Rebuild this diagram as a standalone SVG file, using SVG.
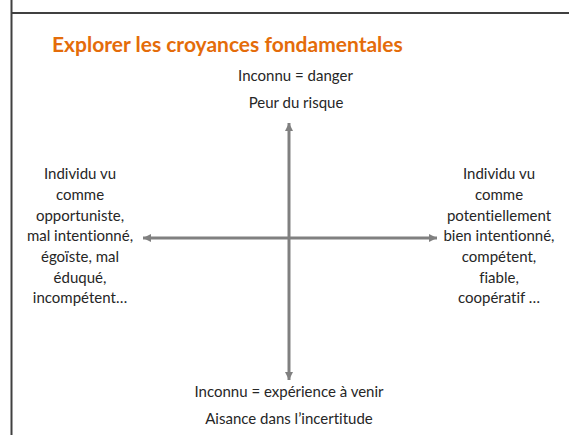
<svg xmlns="http://www.w3.org/2000/svg" width="569" height="435" viewBox="0 0 569 435">
  <style>
    .t { font-family: Lato, "Open Sans", "Liberation Sans", sans-serif; font-size: 15px; fill: #262626; text-anchor: middle; font-variant-ligatures: none; }
    .title { font-family: Lato, "Open Sans", "Liberation Sans", sans-serif; font-size: 21px; font-weight: bold; fill: #E46C0A; font-variant-ligatures: none; }
    .frame { stroke: #404040; stroke-width: 2; fill: none; }
    .axis { stroke: #808080; stroke-width: 3; fill: none; }
  </style>
  <defs>
    <marker id="arr" viewBox="0 0 10 10" refX="10" refY="5" markerWidth="8" markerHeight="10" markerUnits="userSpaceOnUse" orient="auto">
      <path d="M0,0 L10,5 L0,10 Z" fill="#808080"/>
    </marker>
  </defs>
  <rect width="569" height="435" fill="#ffffff"/>
  <g id="frame">
    <line class="frame" x1="11.5" y1="0" x2="11.5" y2="435"/>
    <line class="frame" x1="11" y1="13" x2="569" y2="13"/>
  </g>
  <g id="title">
    <text class="title" x="52" y="52">Explorer les croyances fondamentales</text>
  </g>
  <g id="connectors">
    <line class="axis" x1="289" y1="238" x2="289" y2="123" marker-end="url(#arr)"/>
    <line class="axis" x1="289" y1="238" x2="289" y2="380" marker-end="url(#arr)"/>
    <line class="axis" x1="289" y1="238" x2="143" y2="238" marker-end="url(#arr)"/>
    <line class="axis" x1="289" y1="238" x2="437" y2="238" marker-end="url(#arr)"/>
  </g>
  <g id="node-top">
    <text class="t" x="295.5" y="81">Inconnu = danger</text>
    <text class="t" x="296" y="108">Peur du risque</text>
  </g>
  <g id="node-bottom">
    <text class="t" x="289" y="397">Inconnu = expérience à venir</text>
    <text class="t" x="289" y="424">Aisance dans l’incertitude</text>
  </g>
  <g id="node-left">
    <text class="t" x="80" y="179">Individu vu</text>
    <text class="t" x="80" y="200">comme</text>
    <text class="t" x="80" y="221">opportuniste,</text>
    <text class="t" x="80" y="241">mal intentionné,</text>
    <text class="t" x="80" y="262">égoïste, mal</text>
    <text class="t" x="80" y="283">éduqué,</text>
    <text class="t" x="80" y="303">incompétent…</text>
  </g>
  <g id="node-right">
    <text class="t" x="499" y="179">Individu vu</text>
    <text class="t" x="499" y="200">comme</text>
    <text class="t" x="499" y="221">potentiellement</text>
    <text class="t" x="499" y="241">bien intentionné,</text>
    <text class="t" x="499" y="262">compétent,</text>
    <text class="t" x="499" y="283">fiable,</text>
    <text class="t" x="499" y="303">coopératif …</text>
  </g>
</svg>
